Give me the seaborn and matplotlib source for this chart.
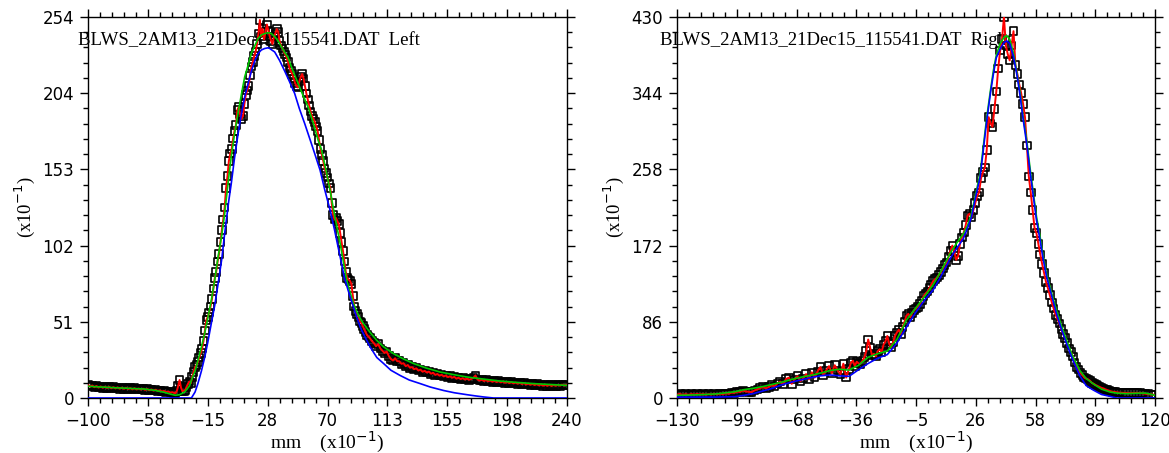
import matplotlib
matplotlib.use("Agg")
import matplotlib.pyplot as plt
from matplotlib.ticker import FixedLocator, AutoMinorLocator
import seaborn as sns
import pandas as pd

# ---------------- LEFT PANEL DATA (measured) ----------------
left_x_a = [-100, -98.5, -97, -95.5, -94, -92.5, -91, -89.5, -88, -86.5,
            -85, -83.5, -82, -80.5, -79, -77.5, -76, -74.5, -73, -71.5,
            -70, -68.5, -67, -65.5, -64, -62.5, -61, -59.5, -58, -56.5,
            -55, -53.5, -52, -50.5, -49, -47.5, -46, -44.5, -43, -41.5,
            -40]
left_y_a = [8.6, 7.6, 8.3, 7.2, 8.0, 7.0, 7.7, 6.8, 7.5, 6.7,
            7.4, 6.5, 7.2, 6.4, 7.1, 6.2, 6.9, 6.1, 6.8, 6.0,
            6.6, 5.8, 6.5, 5.7, 6.3, 5.6, 6.2, 5.4, 6.0, 5.2,
            5.7, 4.9, 5.5, 4.7, 5.1, 4.4, 4.7, 4.0, 4.3, 3.6,
            3.9]
left_x_b = [-39, -38, -37, -36, -35, -34, -33, -32, -31, -30,
            -29, -28, -27, -26, -25, -24, -23, -22, -21, -20,
            -19, -18, -17, -16, -15, -14, -13, -12, -11, -10,
            -9, -8, -7, -6, -5, -4, -3, -2, -1, 0,
            1, 2, 3, 4, 5, 6, 7, 8, 9, 10,
            11, 12, 13, 14, 15, 16, 17, 18, 19, 20,
            21, 22, 23, 24, 25, 26, 27, 28, 29, 30,
            31, 32, 33, 34, 35, 36, 37, 38, 39, 40,
            41, 42, 43, 44, 45, 46, 47, 48, 49, 50,
            51, 52, 53, 54, 55, 56, 57, 58, 59, 60,
            61, 62, 63, 64, 65, 66, 67, 68, 69, 70,
            71, 72, 73, 74, 75, 76, 77, 78, 79, 80,
            81, 82, 83, 84, 85, 86, 87, 88, 89, 90,
            91, 92, 93, 94, 95, 96, 97, 98, 99, 100]
left_y_b = [3.4, 3.2, 4.5, 8, 12, 7, 4.5, 4.8, 5.2, 7.5,
            9.5, 11, 10, 14, 17.5, 20.5, 22, 24, 27, 30,
            33, 38, 45, 52, 54, 57, 61, 66, 73, 80,
            84, 91, 96, 104, 112, 119, 127, 140, 148, 158,
            163, 166, 173, 178, 182, 192, 194, 189, 186, 188,
            196, 202, 205, 208, 215, 221, 224, 228, 231, 236,
            243, 252, 241, 246, 239, 244, 249, 245, 241, 238,
            236, 241, 243, 246, 244, 238, 235, 233, 231, 229,
            227, 224, 220, 218, 216, 213, 210, 208, 207, 211,
            214, 216, 213, 208, 203, 199, 195, 191, 188, 186,
            184, 181, 178, 172, 166, 162, 158, 153, 150, 147,
            143, 140, 130, 122, 119, 120, 118, 116, 110, 104,
            98, 91, 84, 80, 79, 78, 76, 68, 61, 58,
            56, 54, 51, 50, 48, 46, 44, 42, 41, 40]
left_x_c = [101.5, 103, 104.5, 106, 107.5, 109, 110.5, 112, 113.5, 115,
            116.5, 118, 119.5, 121, 122.5, 124, 125.5, 127, 128.5, 130,
            131.5, 133, 134.5, 136, 137.5, 139, 140.5, 142, 143.5, 145,
            146.5, 148, 149.5, 151, 152.5, 154, 155.5, 157, 158.5, 160,
            161.5, 163, 164.5, 166, 167.5, 169, 170.5, 172, 173.5, 175,
            176.5, 178, 179.5, 181, 182.5, 184, 185.5, 187, 188.5, 190,
            191.5, 193, 194.5, 196, 197.5, 199, 200.5, 202, 203.5, 205,
            206.5, 208, 209.5, 211, 212.5, 214, 215.5, 217, 218.5, 220,
            221.5, 223, 224.5, 226, 227.5, 229, 230.5, 232, 233.5, 235,
            236.5, 238, 239.5]
left_y_c = [38, 36.5, 34.5, 36, 33, 31.5, 30, 31, 28, 26,
            25, 26.5, 24.5, 24.5, 22.8, 23.2, 21.2, 22.0, 20.2, 20.6,
            19.2, 19.8, 18.3, 18.9, 17.5, 18.1, 17.0, 17.6, 16.2, 16.8,
            15.4, 16.0, 14.9, 15.5, 14.4, 15.0, 13.9, 14.5, 13.5, 14.1,
            12.9, 13.5, 12.6, 13.2, 12.3, 12.9, 12.1, 12.7, 13.4, 15.0,
            12.3, 11.6, 12.2, 11.3, 11.9, 11.1, 11.7, 10.8, 11.4, 10.6,
            11.2, 10.4, 11.0, 10.1, 10.7, 9.9, 10.5, 9.7, 10.3, 9.5,
            10.1, 9.3, 9.9, 9.0, 9.6, 8.8, 9.4, 8.6, 9.2, 8.4,
            9.0, 8.2, 8.9, 8.1, 8.8, 8.0, 8.7, 8.1, 8.8, 8.2,
            8.9, 8.3, 8.8]

# left fits
left_green_x = [-100, -90, -80, -70, -60, -52, -46, -41, -38, -35, -31.4, -28, -26.6, -24, -22, -19.5, -17.2, -15,
                -12.5, -10, -7.7, -5, -3, 0, 1.7, 4, 6.5, 9, 11.2, 14, 16, 18.5, 20.7, 23, 25.4, 28, 30.1, 32.5, 34.9,
                38, 42, 45.5, 49, 52.5, 56.2, 60, 63.3, 65.6, 68, 71.9, 75, 79, 83.7, 88.4, 92, 95.5, 100, 105, 110,
                116.8, 124, 131, 140, 150, 160, 169, 180, 192.6, 204, 216.3, 228, 240]
left_green_y = [7.8, 7.3, 6.8, 6.4, 6.0, 5.0, 3.8, 2.5, 1.8, 2.2, 4, 8, 11.8, 18, 25, 34, 43, 53,
                65, 79, 94, 109, 123, 148, 161, 176, 190, 203, 214, 223, 230, 235, 239.6, 242, 243, 243.5, 243, 241, 238,
                233, 227, 218, 210, 202, 194, 183, 172, 166, 156, 138, 122, 103, 78, 63, 55, 49.6, 44, 38.4, 34,
                29.6, 26, 23, 20, 17.3, 15.5, 14, 12.7, 11.3, 10.4, 9.6, 9, 8.4]
left_blue_x = [-100, -60, -26.6, -24, -22, -19.5, -17.2, -15, -12.5, -10, -7.7, -5, -3, 0, 1.7, 4, 6.5, 9, 11.2, 14,
               16, 18.5, 20.7, 23, 25.4, 28, 29, 30.5, 32.5, 36, 39.6, 43, 46.7, 50, 53.8, 57, 60.9, 64.7, 68, 71.9,
               75, 79, 82, 86.2, 90, 93.3, 97, 100.3, 105, 109.8, 115, 121.6, 128, 135.8, 143, 152.4, 160, 169, 175,
               180.8, 187.9, 200, 220, 240]
left_blue_y = [0, 0, 0, 4, 9.6, 18, 27, 37, 49.6, 62, 76, 93, 109.6, 132, 143, 160, 176, 190, 200.7, 211,
               218, 225, 229.6, 232, 233, 233.5, 233, 232, 230.7, 225, 218, 211, 203, 193, 183, 174, 163, 152, 139, 125,
               112, 94, 80, 67, 56, 47, 40, 34, 27, 23, 18.5, 15, 12, 9.6, 7.3, 5, 3.5, 2.2, 1.4,
               0.7, 0, 0, 0, 0]

# ---------------- RIGHT PANEL DATA (measured) ----------------
right_x_a = [-130, -128.5, -127, -125.5, -124, -122.5, -121, -119.5, -118, -116.5,
             -115, -113.5, -112, -110.5, -109, -107.5, -106, -104.5, -103, -101.5,
             -100, -98.5, -97, -95.5, -94, -92.5, -91, -89.5, -88, -86.5,
             -85, -83.5, -82, -80.5, -79, -77.5, -76, -74.5, -73, -71.5,
             -70, -68.5, -67, -65.5, -64, -62.5, -61, -59.5, -58, -56.5,
             -55, -53.5, -52, -50.5, -49, -47.5, -46, -44.5, -43, -41.5]
right_y_a = [3.8, 4.6, 3.5, 4.3, 3.6, 4.4, 3.7, 4.5, 3.8, 4.4,
             3.7, 4.3, 3.9, 4.8, 4.1, 4.9, 4.4, 5.3, 4.9, 6.0,
             5.8, 7.2, 6.8, 8.4, 7.4, 7.0, 6.6, 8.5, 9.8, 11.2,
             12.4, 10.8, 12.5, 14.5, 13.2, 16.5, 18.5, 15.5, 21.5, 23,
             16, 21, 24.5, 19, 22, 27, 21, 29, 23, 30,
             35, 26, 31, 36, 28, 37, 31, 27, 38.7, 23]
right_x_b = [-40, -39, -38, -37, -36, -35, -34, -33, -32, -31,
             -30, -29, -28, -27, -26, -25, -24, -23, -22, -21,
             -20, -19, -18, -17, -16, -15, -14, -13, -12, -11,
             -10, -9, -8, -7, -6, -5, -4, -3, -2, -1,
             0, 1, 2, 3, 4, 5, 6, 7, 8, 9,
             10, 11, 12, 13, 14, 15, 16, 17, 18, 19,
             20, 21, 22, 23, 24, 25, 26, 27, 28, 29,
             30, 31, 32, 33, 34, 35, 36, 37, 38, 39,
             40, 41, 42, 43, 44, 45, 46, 47, 48, 49,
             50, 51, 52, 53, 54, 55, 56, 57, 58, 59,
             60, 61, 62, 63, 64, 65, 66, 67, 68, 69,
             70, 71, 72, 73, 74, 75, 76, 77, 78, 79,
             80, 81, 82, 83, 84, 85, 86, 87, 88, 89,
             90, 91, 92, 93, 94, 95, 96, 97, 98, 99,
             100]
right_y_b = [33, 40, 42, 36, 41, 39, 38.5, 42, 46, 53,
             66, 57, 48, 50, 47, 53, 55, 52, 60, 64,
             70, 61, 57, 63, 70, 74, 77, 72, 80, 86,
             93, 95, 91, 96, 99, 101, 103, 106, 110, 115,
             118, 120, 124, 128, 132, 134, 136, 139, 142, 146,
             150, 153, 159, 166, 172, 166, 156, 160, 174, 181,
             187, 195, 206, 208, 204, 212, 220, 228, 232, 248,
             255, 260, 280, 317, 310, 306, 326, 346, 372, 392,
             405, 430, 398, 388, 381, 398, 414, 376, 366, 354,
             344, 332, 317, 285, 250, 232, 212, 192, 186, 174,
             162, 151, 141, 131, 124, 116, 108, 101, 94, 89,
             84, 78, 72, 68, 62, 56, 52, 47, 40, 35,
             32, 28, 26, 23, 22, 21, 19.5, 17, 16, 14.5,
             13.5, 12.4, 11.5, 10.8, 9.8, 9, 8.2, 7.5, 7, 6.8,
             6.4]
right_x_c = [101.5, 103, 104.5, 106, 107.5, 109, 110.5, 112, 113.5, 115, 116.5, 118, 119.5]
right_y_c = [6.0, 5.8, 5.6, 5.5, 5.5, 5.6, 5.8, 5.6, 5.3, 4.8, 4.3, 4.0, 3.7]

# right fits
right_fit_x = [-130, -120, -110, -100, -95, -90, -85, -80, -75, -70, -65, -60, -55, -50, -45, -40, -35, -30, -25,
               -20, -15, -10, -5, 0, 4, 8, 12.8, 16, 19.8, 22, 24, 26, 28.5, 30, 32, 34, 35.5, 37, 39, 41, 42.5, 44,
               46, 48, 49.5, 51, 52.9, 54.5, 56.4, 58, 59.9, 61.5, 63.3, 66, 68.5, 71, 73.8, 77, 80.7, 84, 87.7, 92,
               96.4, 100, 105, 110, 115, 120]
right_green_y = [3, 3.5, 4.5, 7, 9.4, 11, 13, 15.5, 18, 21, 23.5, 25.6, 28, 31, 32.5, 31.5, 37, 46, 50,
                 53, 66, 88, 102, 116, 128, 143, 163, 174, 185.5, 195, 208, 228, 253, 280, 317, 348, 370, 387, 400,
                 407, 409, 405, 389, 364, 344, 318, 291, 262, 231, 205, 182, 160, 140, 118, 99, 82, 65, 47, 31, 22,
                 16, 10, 6.8, 5.5, 4.9, 5.3, 5.6, 3]
right_blue_y = [1, 1, 1, 1.5, 3, 5, 8, 11, 15, 18, 20.5, 23, 25, 26, 25, 24.5, 32, 39, 45,
                49, 62, 80, 97, 112, 122, 137, 157, 168, 180, 192, 204, 225, 249, 276, 313, 345, 366, 384, 394,
                401, 403, 400, 385, 362, 340, 315, 287, 258, 227, 201, 178, 157, 137, 115, 95, 78, 61, 43, 25, 14,
                9, 4, 1.9, 0, 0, 0, 0, 0]

left_x = left_x_a + left_x_b + left_x_c
left_y = left_y_a + left_y_b + left_y_c
right_x = right_x_a + right_x_b + right_x_c
right_y = right_y_a + right_y_b + right_y_c
assert len(left_x) == len(left_y) and len(right_x) == len(right_y)

# ---------------- AXES / TICKS ----------------
left_xticks = [-100, -57.5, -15, 27.5, 70, 112.5, 155, 197.5, 240]
left_xlabels = ["\u2212100", "\u221258", "\u221215", "28", "70", "113", "155", "198", "240"]
left_yticks = [0, 50.8, 101.6, 152.4, 203.2, 254]
left_ylabels = ["0", "51", "102", "153", "204", "254"]
right_xticks = [-130, -98.75, -67.5, -36.25, -5, 26.25, 57.5, 88.75, 120]
right_xlabels = ["\u2212130", "\u221299", "\u221268", "\u221236", "\u22125", "26", "58", "89", "120"]
right_yticks = [0, 86, 172, 258, 344, 430]
right_ylabels = ["0", "86", "172", "258", "344", "430"]

titles = ["BLWS_2AM13_21Dec15_115541.DAT  Left", "BLWS_2AM13_21Dec15_115541.DAT  Right"]
xlabel_text = "mm    (x10$^{-1}$)"
ylabel_text = "(x10$^{-1}$)"

sns.set_theme(style="ticks")
plt.rcParams["font.family"] = ["DejaVu Sans"]
plt.rcParams["mathtext.fontset"] = "dejavusans"

fig = plt.figure(figsize=(11.69, 4.53), dpi=100)
ax_l = fig.add_axes([88 / 1169, 1 - 398 / 453, 479 / 1169, 381 / 453])
ax_r = fig.add_axes([677 / 1169, 1 - 398 / 453, 478 / 1169, 381 / 453])

RED = "#FF0000"
GREEN = "#00C800"
BLUE = "#0000FF"


def draw(ax, dx, dy, gx, gy, bx, by, xlim, ylim, xt, xl, yt, yl, title, tx):
    data = pd.DataFrame({"x": dx, "y": dy})
    sns.scatterplot(data=data, x="x", y="y", ax=ax, marker="s", s=30, color="none",
                    edgecolor="black", linewidth=1.2, zorder=3, legend=False)
    sns.lineplot(data=data, x="x", y="y", ax=ax, color=RED, linewidth=1.4, zorder=4,
                 sort=False, estimator=None)
    sns.lineplot(x=gx, y=gy, ax=ax, color=GREEN, linewidth=1.2, zorder=5, sort=False, estimator=None)
    sns.lineplot(x=bx, y=by, ax=ax, color=BLUE, linewidth=1.2, zorder=6, sort=False, estimator=None)
    ax.set_xlim(*xlim)
    ax.set_ylim(*ylim)
    ax.xaxis.set_major_locator(FixedLocator(xt))
    ax.set_xticklabels(xl)
    ax.yaxis.set_major_locator(FixedLocator(yt))
    ax.set_yticklabels(yl)
    ax.xaxis.set_minor_locator(AutoMinorLocator(5))
    ax.yaxis.set_minor_locator(AutoMinorLocator(5))
    ax.tick_params(which="both", direction="out", top=True, right=True, color="black", width=1.0)
    ax.tick_params(which="major", length=6, labelsize=12, pad=4, labelcolor="black")
    ax.tick_params(which="minor", length=3.5)
    for sp in ax.spines.values():
        sp.set_visible(True)
        sp.set_color("black")
        sp.set_linewidth(1.0)
    ax.set_xlabel(xlabel_text, fontsize=14, family="Liberation Serif", labelpad=0, color="black")
    ax.set_ylabel(ylabel_text, fontsize=13.5, family="Liberation Serif", labelpad=4, color="black")
    ax.text(tx, 0.938, title, transform=ax.transAxes, fontsize=13.5, family="Liberation Serif",
            va="center", ha="left", zorder=1, color="black")
    ax.set_facecolor("white")


draw(ax_l, left_x, left_y, left_green_x, left_green_y, left_blue_x, left_blue_y,
     (-100, 240), (0, 254), left_xticks, left_xlabels, left_yticks, left_ylabels, titles[0], -0.021)
draw(ax_r, right_x, right_y, right_fit_x, right_green_y, right_fit_x, right_blue_y,
     (-130, 120), (0, 430), right_xticks, right_xlabels, right_yticks, right_ylabels, titles[1], -0.036)

fig.savefig("out.png", dpi=100, facecolor="white")
